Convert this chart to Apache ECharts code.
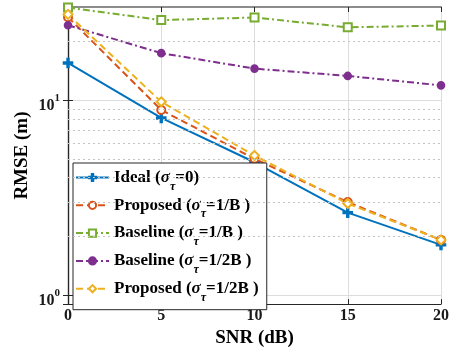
<!DOCTYPE html>
<html><head><meta charset="utf-8">
<script src="https://cdn.jsdelivr.net/npm/echarts@6/dist/echarts.min.js"></script>
<style>html,body{margin:0;padding:0;background:#fff}#c{width:472px;height:353px}</style>
</head><body><div id="c"></div>
<script>
// ---- data ----
const snr = [0, 5, 10, 15, 20];
const ideal = [15.5, 8.1, 4.8, 2.65, 1.81];
const proposedB = [26.6, 8.9, 5.0, 3.0, 1.92];
const baselineB = [29.8, 25.7, 26.5, 23.6, 24.1];
const baseline2B = [24.2, 17.4, 14.5, 13.3, 11.9];
const proposed2B = [27.5, 9.8, 5.2, 2.95, 1.92];
const majorYTicks = [1, 10];
const minorYGrid = [2, 3, 4, 5, 6, 7, 8, 9, 20];
const seriesNames = ['Ideal (0)', 'Proposed (1/B)', 'Baseline (1/B)', 'Baseline (1/2B)', 'Proposed (1/2B)'];
const legendLabels = [
  'Ideal ({g|σ}{t|τ}=0)',
  'Proposed ({g|σ}{t|τ}=1/B )',
  'Baseline ({g|σ}{t|τ}=1/B )',
  'Baseline ({g|σ}{t|τ}=1/2B )',
  'Proposed ({g|σ}{t|τ}=1/2B )'
];

const FONT = "'Liberation Serif', 'Times New Roman', serif";
const AX = '#262626';
const pair = arr => snr.map((x, i) => [x, arr[i]]);

function mk(name, data, color, lineType, symbol, size) {
  return {
    name, type: 'line', data: pair(data),
    symbol, symbolSize: size,
    lineStyle: { color, width: 2, type: lineType },
    itemStyle: { color, borderColor: color, borderWidth: 1.6 },
    emphasis: { disabled: true },
    z: 3
  };
}

const chart = echarts.init(document.getElementById('c'), null, { renderer: 'canvas' });
const option = {
  animation: false,
  backgroundColor: '#fff',
  grid: { left: 68, right: 31, top: 7, bottom: 45 },
  xAxis: [{
    type: 'value', min: 0, max: 20, interval: 5,
    name: 'SNR (dB)', nameLocation: 'middle', nameGap: 24,
    nameTextStyle: { fontFamily: FONT, fontWeight: 'bold', fontSize: 19, color: '#000' },
    axisLine: { lineStyle: { color: AX, width: 1.2 } },
    axisTick: { inside: true, length: 5, lineStyle: { color: AX } },
    axisLabel: { fontFamily: FONT, fontWeight: 'bold', fontSize: 16, color: '#1a1a1a', margin: 4 },
    splitLine: { show: true, lineStyle: { color: '#dcdcdc', width: 1 } }
  }, {
    type: 'value', min: 0, max: 20, interval: 5, position: 'top',
    axisLine: { lineStyle: { color: '#8c8c8c', width: 2 } },
    axisTick: { inside: true, length: 5, lineStyle: { color: AX } },
    axisLabel: { show: false }, splitLine: { show: false }
  }],
  yAxis: [{
    type: 'log', logBase: 10, min: 0.9, max: 30,
    name: 'RMSE (m)', nameLocation: 'middle', nameGap: 36, nameMoveOverlap: false,
    nameTextStyle: { fontFamily: FONT, fontWeight: 'bold', fontSize: 19, color: '#000' },
    axisLine: { lineStyle: { color: AX, width: 1.2 } },
    axisTick: { inside: true, length: 5, lineStyle: { color: AX } },
    axisLabel: {
      margin: 8, showMinLabel: true, showMaxLabel: true,
      formatter: v => {
        for (const t of majorYTicks) {
          if (Math.abs(v - t) < 1e-6 * t) return '{b|10}{s|' + Math.round(Math.log10(t)) + '}';
        }
        return '';
      },
      rich: {
        b: { fontFamily: FONT, fontWeight: 'bold', fontSize: 16, color: '#1a1a1a', padding: [12, 0, 0, 0] },
        s: { fontFamily: FONT, fontWeight: 'bold', fontSize: 11, color: '#1a1a1a', padding: [0, 0, 4, 0] }
      }
    },
    splitLine: { show: true, lineStyle: { color: '#dcdcdc', width: 1 } }
  }, {
    type: 'log', logBase: 10, min: 0.9, max: 30, position: 'right',
    axisLine: { lineStyle: { color: AX, width: 1.2 } },
    axisTick: { inside: true, length: 5, lineStyle: { color: AX } },
    axisLabel: { show: false }, splitLine: { show: false }
  }],
  legend: {
    data: seriesNames,
    orient: 'vertical', left: 73, top: 163,
    backgroundColor: '#fff', borderColor: AX, borderWidth: 1,
    padding: [6, 8, 6, 2], itemGap: 4.3, itemWidth: 33, itemHeight: 9,
    selectedMode: false,
    formatter: name => legendLabels[seriesNames.indexOf(name)],
    textStyle: {
      fontFamily: FONT, fontWeight: 'bold', fontSize: 17, color: '#000',
      rich: {
        g: { fontFamily: FONT, fontWeight: 'bold', fontStyle: 'italic', fontSize: 17, color: '#000' },
        t: { fontFamily: FONT, fontWeight: 'bold', fontStyle: 'italic', fontSize: 12, color: '#000', padding: [18, 0, 0, 0] }
      }
    }
  },
  series: [
    {
      name: 'minor-grid', type: 'line', data: [], z: 1, silent: true,
      markLine: {
        silent: true, symbol: 'none', label: { show: false },
        lineStyle: { color: '#c4c4c4', width: 1, type: [2, 3] },
        data: minorYGrid.map(v => ({ yAxis: v }))
      }
    },
    mk(seriesNames[0], ideal, '#0072BD', 'solid', 'path://M4,0h2v4h4v2h-4v4h-2v-4h-4v-2h4z', 9),
    mk(seriesNames[1], proposedB, '#D95319', [7, 4], 'emptyCircle', 8),
    mk(seriesNames[2], baselineB, '#77AC30', [7, 3, 2, 3], 'emptyRect', 8),
    mk(seriesNames[3], baseline2B, '#7E2F8E', [7, 3, 2, 3], 'circle', 7),
    mk(seriesNames[4], proposed2B, '#EDB120', [7, 4], 'emptyDiamond', 9)
  ]
};
chart.setOption(option);
</script></body></html>
